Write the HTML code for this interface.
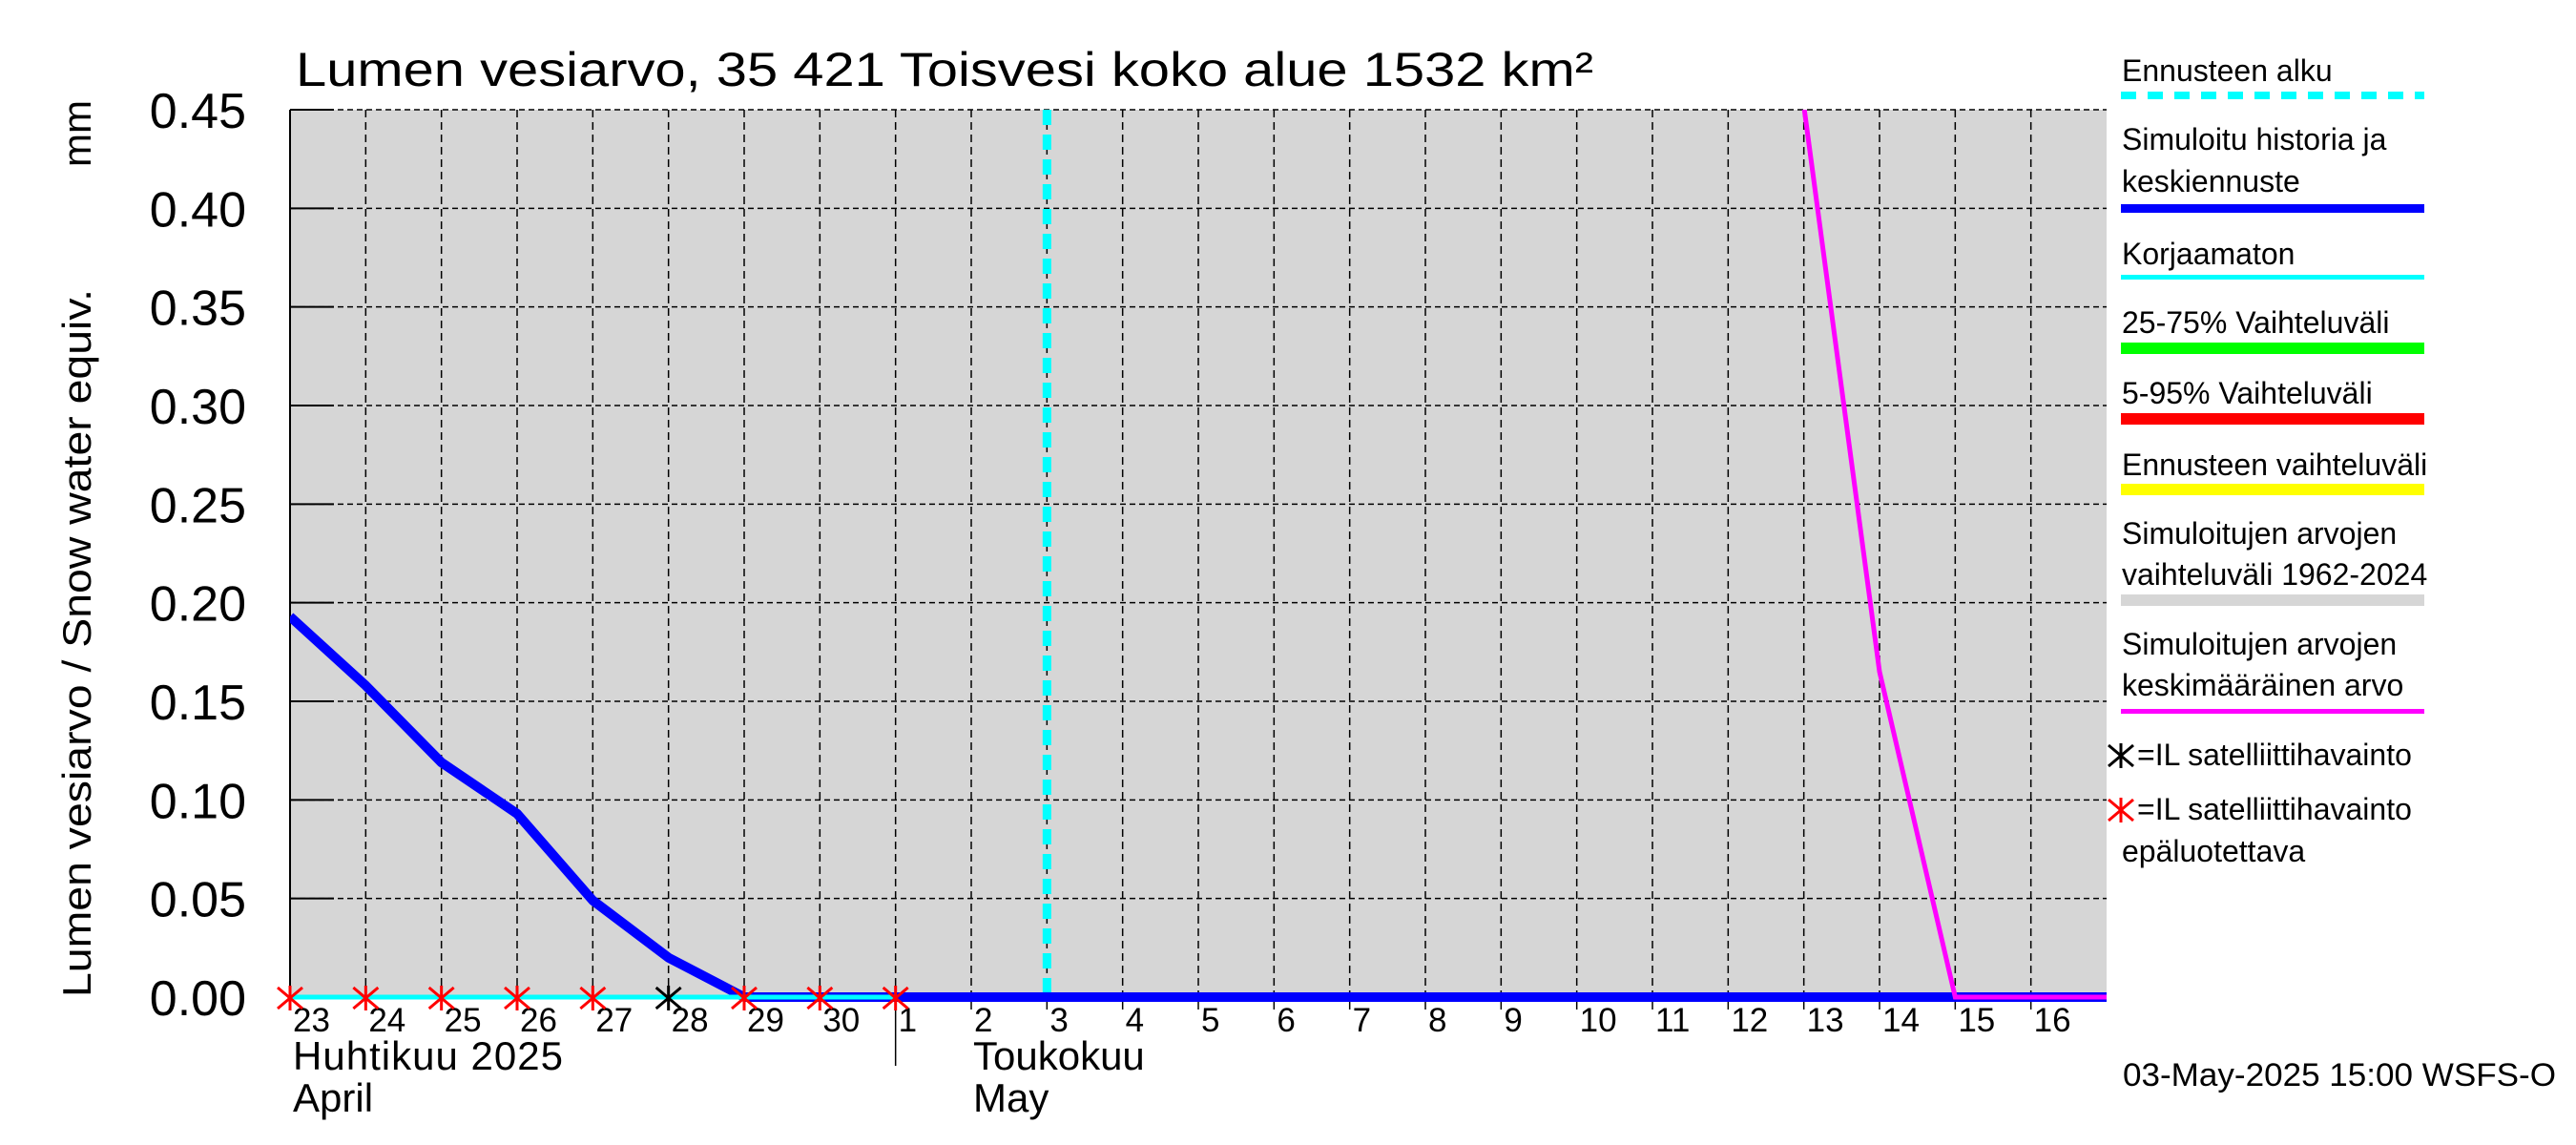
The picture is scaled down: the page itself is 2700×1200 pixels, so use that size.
<!DOCTYPE html>
<html><head><meta charset="utf-8"><style>
html,body{margin:0;padding:0;background:#fff;}
svg{display:block;font-family:"Liberation Sans",sans-serif;}
</style></head><body>
<svg id="chart" width="2700" height="1200" viewBox="0 0 2700 1200" xmlns="http://www.w3.org/2000/svg">
<text x="310" y="90" font-size="50" textLength="1360" lengthAdjust="spacingAndGlyphs">Lumen vesiarvo, 35 421 Toisvesi koko alue 1532 km²</text>
<rect x="304" y="115" width="1904" height="930" fill="#d6d6d6"/>
<g id="grid"></g>
<g id="axes"></g>
<g id="series"></g>
<text transform="translate(95,1045) rotate(-90)" font-size="42" textLength="742" lengthAdjust="spacingAndGlyphs">Lumen vesiarvo / Snow water equiv.</text>
<text transform="translate(95,175) rotate(-90)" font-size="42">mm</text>
<text x="307" y="1121" font-size="42" textLength="283" lengthAdjust="spacing">Huhtikuu  2025</text>
<text x="307" y="1165" font-size="42">April</text>
<text x="1020" y="1121" font-size="42">Toukokuu</text>
<text x="1020" y="1165" font-size="42">May</text>
<text x="2225" y="1138" font-size="34" textLength="454" lengthAdjust="spacingAndGlyphs">03-May-2025 15:00 WSFS-O</text>
<g id="legend">
<text x="2224" y="85" font-size="32">Ennusteen alku</text>
<line x1="2223" y1="100" x2="2541" y2="100" stroke="#00ffff" stroke-width="8" stroke-dasharray="16 12"/>
<text x="2224" y="157" font-size="32">Simuloitu historia ja</text>
<text x="2224" y="201" font-size="32">keskiennuste</text>
<rect x="2223" y="214" width="318" height="9" fill="#0000ff"/>
<text x="2224" y="277" font-size="32">Korjaamaton</text>
<rect x="2223" y="288" width="318" height="5" fill="#00ffff"/>
<text x="2224" y="349" font-size="32">25-75% Vaihteluväli</text>
<rect x="2223" y="359" width="318" height="12" fill="#00ff00"/>
<text x="2224" y="423" font-size="32">5-95% Vaihteluväli</text>
<rect x="2223" y="433" width="318" height="12" fill="#ff0000"/>
<text x="2224" y="498" font-size="32">Ennusteen vaihteluväli</text>
<rect x="2223" y="507" width="318" height="12" fill="#ffff00"/>
<text x="2224" y="570" font-size="32">Simuloitujen arvojen</text>
<text x="2224" y="613" font-size="32">vaihteluväli 1962-2024</text>
<rect x="2223" y="623" width="318" height="12" fill="#d6d6d6"/>
<text x="2224" y="686" font-size="32">Simuloitujen arvojen</text>
<text x="2224" y="729" font-size="32">keskimääräinen arvo</text>
<rect x="2223" y="743" width="318" height="5" fill="#ff00ff"/>
<g id="legstar1"></g>
<text x="2240" y="802" font-size="32">=IL satelliittihavainto</text>
<g id="legstar2"></g>
<text x="2240" y="859" font-size="32">=IL satelliittihavainto</text>
<text x="2224" y="903" font-size="32">epäluotettava</text>
</g>
</svg>
<script>
// data (days offset from 23 April 2025)
const dayLabels = ["23","24","25","26","27","28","29","30","1","2","3","4","5","6","7","8","9","10","11","12","13","14","15","16"];
const yTicks = [0,0.05,0.10,0.15,0.20,0.25,0.30,0.35,0.40,0.45];
const simDays = [0,1,2,3,4,5,6,7,8,24];
const simValues = [0.193,0.158,0.119,0.093,0.049,0.020,0,0,0,0];
const uncorrDays = [0,8];
const uncorrValues = [0,0];
const meanDays = [20,21,22,24];
const meanValues = [0.452,0.165,0,0];
const forecastStartDay = 10;
const satDays = [5];
const satValues = [0];
const satBadDays = [0,1,2,3,4,6,7,8];
const satBadValues = [0,0,0,0,0,0,0,0];

const X0=304, X1=2208, Y0=1045, Y1=115, NDAYS=24, YMAX=0.45;
const xs = d => X0 + d*(X1-X0)/NDAYS;
const ys = v => Y0 - v*(Y0-Y1)/YMAX;
const NS="http://www.w3.org/2000/svg";
function mk(tag, attrs, parent){const e=document.createElementNS(NS,tag);for(const k in attrs)e.setAttribute(k,attrs[k]);parent.appendChild(e);return e;}
const grid=document.getElementById('grid'), axes=document.getElementById('axes'), series=document.getElementById('series');

dayLabels.forEach((lab,i)=>{
  const x=xs(i);
  if(i>0){const g=mk('line',{x1:x,y1:Y1,x2:x,y2:Y0,stroke:'#000','stroke-width':1.5,'stroke-dasharray':'8 5'},grid);
  
  }
  const t=mk('line',{x1:x,y1:Y0,x2:x,y2:(lab==="1"?1117:1058),stroke:'#000','stroke-width':1.5},axes);
  
  
  const tx=mk('text',{x:x+3,y:1081,'font-size':35},axes);
  tx.textContent=lab;
  
  
});
yTicks.forEach(v=>{
  const y=ys(v);
  if(v>0){const g=mk('line',{x1:X0,y1:y,x2:X1,y2:y,stroke:'#000','stroke-width':1.5,'stroke-dasharray':'6 4'},grid);
  
  }
  const t=mk('line',{x1:X0,y1:y,x2:X0+46,y2:y,stroke:'#000','stroke-width':2},axes);
  
  
  const tx=mk('text',{x:258,y:y+19,'font-size':52,'text-anchor':'end'},axes);
  tx.textContent=v.toFixed(2);
  
  
});
const la=mk('line',{x1:X0,y1:Y1,x2:X0,y2:Y0,stroke:'#000','stroke-width':2},axes);



const fl=mk('line',{x1:xs(forecastStartDay),y1:Y1,x2:xs(forecastStartDay),y2:Y0,stroke:'#00ffff','stroke-width':9,'stroke-dasharray':'16 10'},series);



function pts(ds,vs){return ds.map((d,i)=>xs(d)+','+ys(vs[i])).join(' ');}
const cp=mk('clipPath',{id:'clip'},series); mk('rect',{x:X0,y:Y1,width:X1-X0,height:Y0-Y1+10},cp);
const sim=mk('polyline',{points:pts(simDays,simValues),fill:'none',stroke:'#0000ff','stroke-width':10,'stroke-linejoin':'round','clip-path':'url(#clip)'},series);


const un=mk('polyline',{points:pts(uncorrDays,uncorrValues),fill:'none',stroke:'#00ffff','stroke-width':5},series);


const mn=mk('polyline',{points:pts(meanDays,meanValues),fill:'none',stroke:'#ff00ff','stroke-width':5,'clip-path':'url(#clip)'},series);



function star(cx,cy,col,parent,name){
  const g=mk('g',{stroke:col,'stroke-width':3},parent);
  
  
  mk('line',{x1:cx-13,y1:cy-11,x2:cx+13,y2:cy+11},g);
  mk('line',{x1:cx-13,y1:cy+11,x2:cx+13,y2:cy-11},g);
  mk('line',{x1:cx,y1:cy-13,x2:cx,y2:cy+13},g);
}
satBadDays.forEach((d,i)=>star(xs(d),ys(satBadValues[i])+1,'#ff0000',series,'satellite-unreliable-marker'));
satDays.forEach((d,i)=>star(xs(d),ys(satValues[i])+1,'#000000',series,'satellite-marker'));
star(2223,792,'#000000',document.getElementById('legstar1'),'legend-black-star');
star(2223,849,'#ff0000',document.getElementById('legstar2'),'legend-red-star');
</script>
</body></html>
